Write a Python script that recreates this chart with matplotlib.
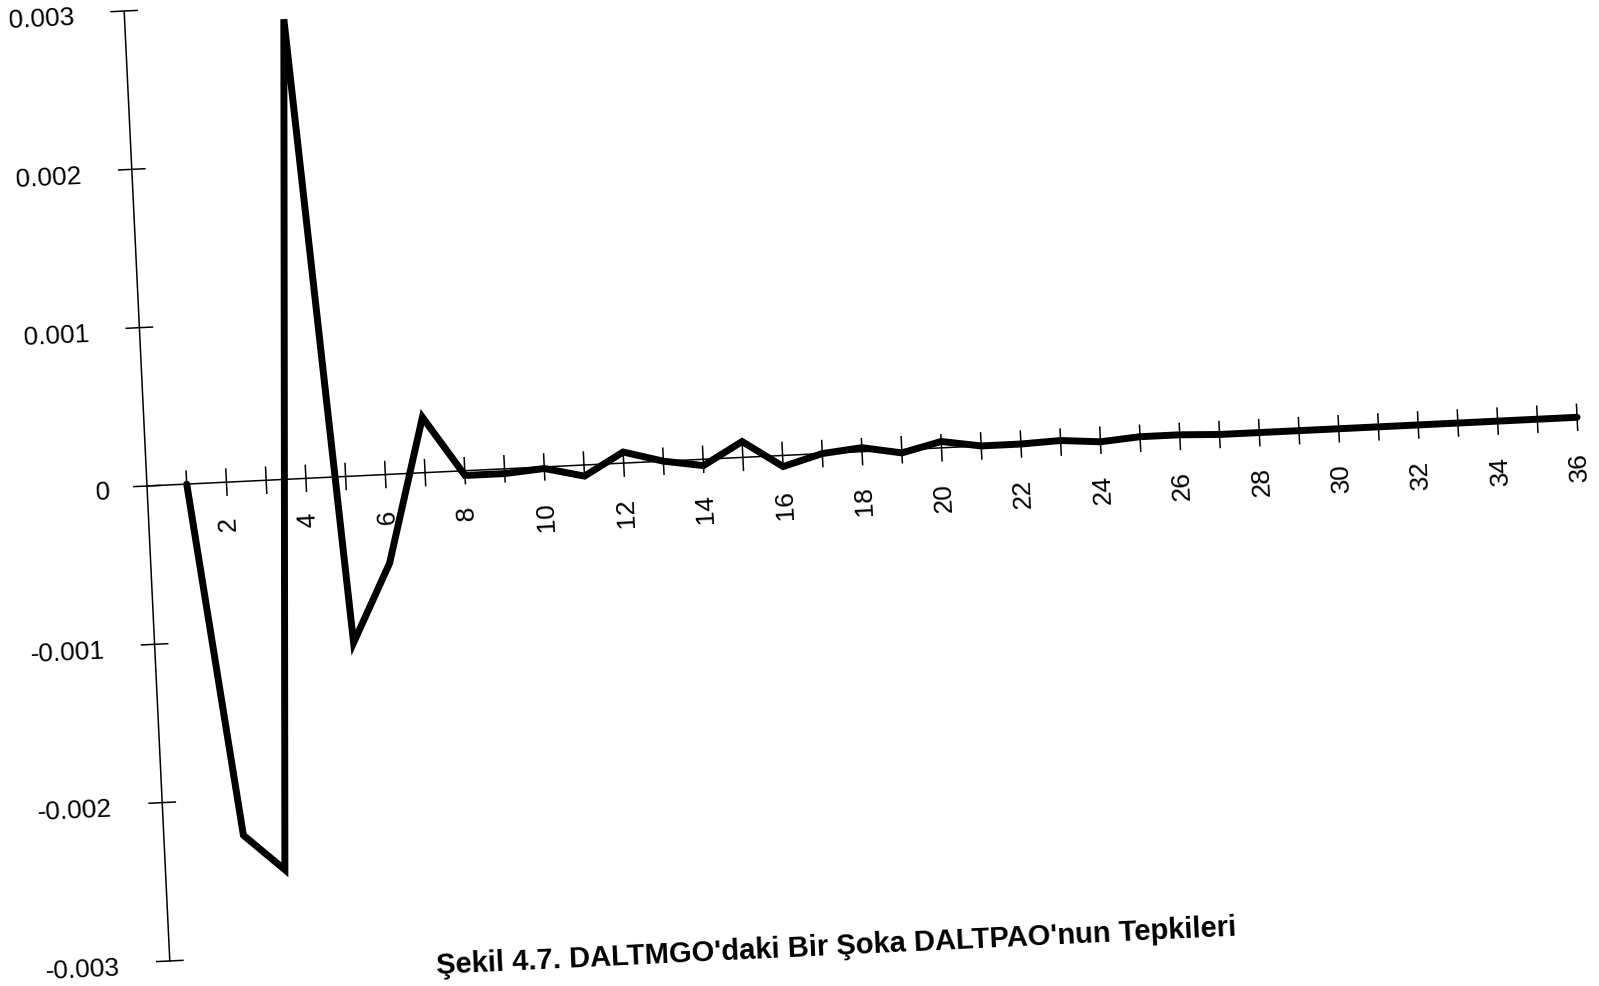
import matplotlib.pyplot as plt
from matplotlib.transforms import Affine2D

# impulse response of DALTPAO to a shock in DALTMGO, periods 1..36
periods = list(range(1, 37))
response = [
    0.0, -0.00223, -0.00246, 0.0029, -0.00105, -0.00056, 0.00035, -0.00003,
    -0.00003, -0.00001, -0.00007, 0.00007, 0.0, -0.00004, 0.0001, -0.00007,
    0.0, 0.000025, -0.00002, 0.00004, 0.0, 0.0, 0.00001, -0.00001,
    0.00001, 0.00001, 0.0, 0.0, 0.0, 0.0, 0.0, 0.0,
    0.0, 0.0, 0.0, 0.0,
]
y_ticks = [-0.003, -0.002, -0.001, 0.0, 0.001, 0.002, 0.003]
y_tick_labels = ["-0.003", "-0.002", "-0.001", "0", "0.001", "0.002", "0.003"]
x_labelled = list(range(2, 37, 2))
caption = "Şekil 4.7. DALTMGO'daki Bir Şoka DALTPAO'nun Tepkileri"

fig = plt.figure(figsize=(15.99, 9.86), dpi=100)
ax = fig.add_axes([0, 0, 1, 1])
ax.set_xlim(-3.696, 36.51)
ax.set_ylim(-0.0031546, 0.0030662)
ax.axis("off")

# the printed page is slightly tilted, so everything is drawn through a rotation
tilt = 2.75
ox, oy = ax.transData.transform((0, 0))
tr = ax.transData + Affine2D().rotate_deg_around(ox, oy, tilt)

axis_kw = dict(color="black", lw=1.1, transform=tr)
xtick_half = 0.000082
ytick_half = 0.33

# y axis with crossing ticks
ax.plot([0, 0], [y_ticks[0], y_ticks[-1]], **axis_kw)
for v, lab in zip(y_ticks, y_tick_labels):
    ax.plot([-ytick_half, ytick_half], [v, v], **axis_kw)
    # the zero label sits a little closer to the axis
    xpos = -0.93 if lab == "0" else -1.26
    ax.text(xpos, v - 0.00003, lab, transform=tr, rotation=tilt,
            rotation_mode="anchor", ha="right", va="center",
            fontsize=19, family="Liberation Sans")

# x axis (zero line) with a tick on every period
ax.plot([0, periods[-1]], [0, 0], **axis_kw)
for p in periods:
    ax.plot([p, p], [-xtick_half, xtick_half], **axis_kw)
for p in x_labelled:
    ax.text(p, -0.00022, str(p), transform=tr, rotation=90 + tilt,
            rotation_mode="anchor", ha="right", va="center",
            fontsize=19, family="Liberation Sans")

ax.plot(periods, response, color="black", lw=5, transform=tr,
        solid_joinstyle="miter", solid_capstyle="round")

ax.text(16.75, -0.00311, caption, transform=tr, rotation=tilt,
        rotation_mode="anchor", ha="center", va="center",
        fontsize=21, fontweight="bold",
        family=["Liberation Sans Narrow", "Liberation Sans"])

fig.savefig("out.png", dpi=100)
